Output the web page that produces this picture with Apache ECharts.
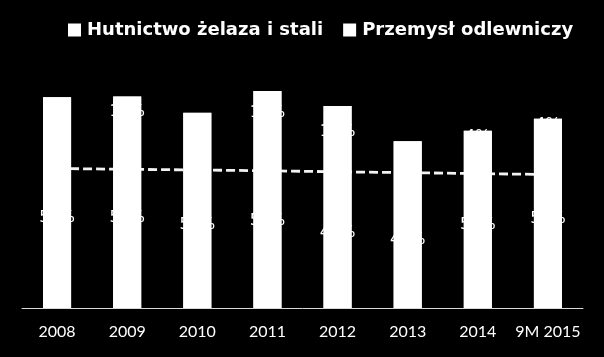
<!DOCTYPE html>
<html>
<head>
<meta charset="utf-8">
<script src="https://cdn.jsdelivr.net/npm/echarts@6/dist/echarts.min.js"></script>
<style>
html,body{margin:0;padding:0;background:#000;}
#c{width:604px;height:357px;}
</style>
</head>
<body>
<div id="c"></div>
<script>
var categories = ['2008','2009','2010','2011','2012','2013','2014','9M 2015'];
var hutnictwo = [55.2, 55.2, 50.9, 53.3, 46.0, 41.7, 50.8, 54.5];
var odlewnictwo = [9.4, 9.6, 8.9, 13.2, 15.9, 9.4, 3.5, 3.5];
var trend = [42.75, 42.5, 42.3, 42.05, 41.74, 41.47, 41.2, 40.9];
var seriesNames = ['Hutnictwo żelaza i stali', 'Przemysł odlewniczy'];

var totals = hutnictwo.map(function (v, i) { return v + odlewnictwo[i]; });

var chart = echarts.init(document.getElementById('c'));
var labelStyle = {
  show: true, position: 'inside', color: '#ffffff', fontFamily: 'DejaVu Sans', fontSize: 16,
  textBorderWidth: 0, textBorderColor: 'transparent', textShadowBlur: 0, textShadowColor: 'transparent',
  formatter: function (p) { return Math.round(p.value) + '%'; }
};
chart.setOption({
  backgroundColor: '#000000',
  animation: false,
  legend: {
    data: seriesNames,
    left: 63, top: 16,
    icon: 'rect', itemWidth: 13, itemHeight: 13, itemGap: 20,
    textStyle: { color: '#ffffff', fontFamily: 'DejaVu Sans', fontWeight: 'bold', fontSize: 18, padding: [0, 0, 0, 1] }
  },
  grid: { left: 22, right: 21, top: 60, bottom: 49 },
  xAxis: {
    type: 'category', data: categories,
    axisTick: { show: false },
    axisLine: { lineStyle: { color: '#d9d9d9', width: 1 } },
    axisLabel: { color: '#ffffff', fontFamily: 'Lato', fontSize: 16, margin: 16, interval: 0 }
  },
  yAxis: { type: 'value', min: 0, max: 76, show: false, splitLine: { show: false } },
  series: [
    { name: 'total', type: 'bar', stack: 'bg', data: totals, barWidth: '40%', barGap: '-100%', z: 2,
      itemStyle: { color: '#ffffff' }, label: { show: false }, silent: true },
    { name: seriesNames[0], type: 'bar', stack: 'a', data: hutnictwo, barWidth: '40%', z: 3,
      itemStyle: { color: '#ffffff' }, label: labelStyle },
    { name: seriesNames[1], type: 'bar', stack: 'a', data: odlewnictwo, barWidth: '40%', z: 3,
      itemStyle: { color: '#ffffff' }, label: labelStyle },
    { name: 'trend', type: 'line', data: trend, symbol: 'none', z: 1,
      lineStyle: { color: '#f2f2f2', width: 2.8, type: [9, 4] } }
  ]
});
</script>
</body>
</html>
